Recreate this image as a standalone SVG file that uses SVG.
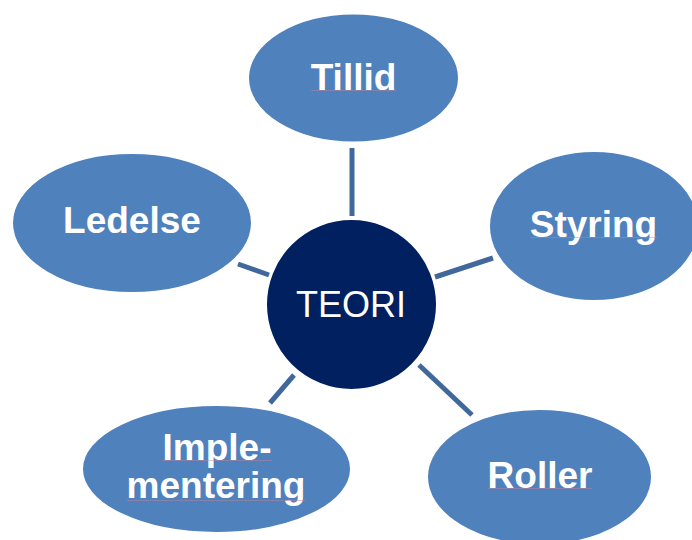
<svg xmlns="http://www.w3.org/2000/svg" width="692" height="540" viewBox="0 0 692 540">
  <style>
    .bubble { fill: #4F81BD; stroke: #ffffff; stroke-width: 2; }
    .hub { fill: #002060; stroke: #ffffff; stroke-width: 2; }
    .label { font-family: "Liberation Sans", Arial, sans-serif; font-weight: bold; font-size: 37px; fill: #ffffff; text-anchor: middle; }
    .hub-label { font-family: "Liberation Sans", Arial, sans-serif; font-size: 36px; fill: #ffffff; text-anchor: middle; }
    .link { stroke: #41689A; stroke-width: 5; fill: none; }
    .squiggle { stroke: #C98494; stroke-width: 1; opacity: 0.45; }
  </style>
  <rect width="692" height="540" fill="#ffffff"/>

  <g id="connectors">
    <line class="link" x1="352" y1="148" x2="352" y2="216"/>
    <line class="link" x1="238" y1="264" x2="269" y2="275"/>
    <line class="link" x1="435" y1="277" x2="493" y2="258"/>
    <line class="link" x1="419" y1="365" x2="472" y2="415"/>
    <line class="link" x1="294" y1="375" x2="270" y2="403"/>
  </g>

  <g id="tillid">
    <ellipse class="bubble" cx="353.5" cy="78" rx="105.5" ry="64.5"/>
    <text class="label" x="353.5" y="90">Tillid</text>
    <line class="squiggle" x1="311" y1="90.5" x2="396" y2="90.5"/>
  </g>

  <g id="ledelse">
    <ellipse class="bubble" cx="132" cy="223" rx="120" ry="70"/>
    <text class="label" x="132" y="233">Ledelse</text>
  </g>

  <g id="styring">
    <ellipse class="bubble" cx="594" cy="226" rx="105" ry="75"/>
    <text class="label" x="593.5" y="237">Styring</text>
    <line class="squiggle" x1="530" y1="237.5" x2="657" y2="237.5"/>
  </g>

  <g id="roller">
    <ellipse class="bubble" cx="539.5" cy="477" rx="112.5" ry="68"/>
    <text class="label" x="540" y="488">Roller</text>
    <line class="squiggle" x1="488" y1="488.5" x2="592" y2="488.5"/>
  </g>

  <g id="implementering">
    <ellipse class="bubble" cx="216.5" cy="469" rx="134.5" ry="64"/>
    <text class="label" x="217" y="460">Imple-</text>
    <text class="label" x="216" y="498">mentering</text>
    <line class="squiggle" x1="162" y1="460.5" x2="272" y2="460.5"/>
    <line class="squiggle" x1="127" y1="500.5" x2="305" y2="500.5"/>
  </g>

  <g id="teori">
    <circle class="hub" cx="351.5" cy="304.5" r="85.5"/>
    <text class="hub-label" x="351" y="317">TEORI</text>
  </g>
</svg>
